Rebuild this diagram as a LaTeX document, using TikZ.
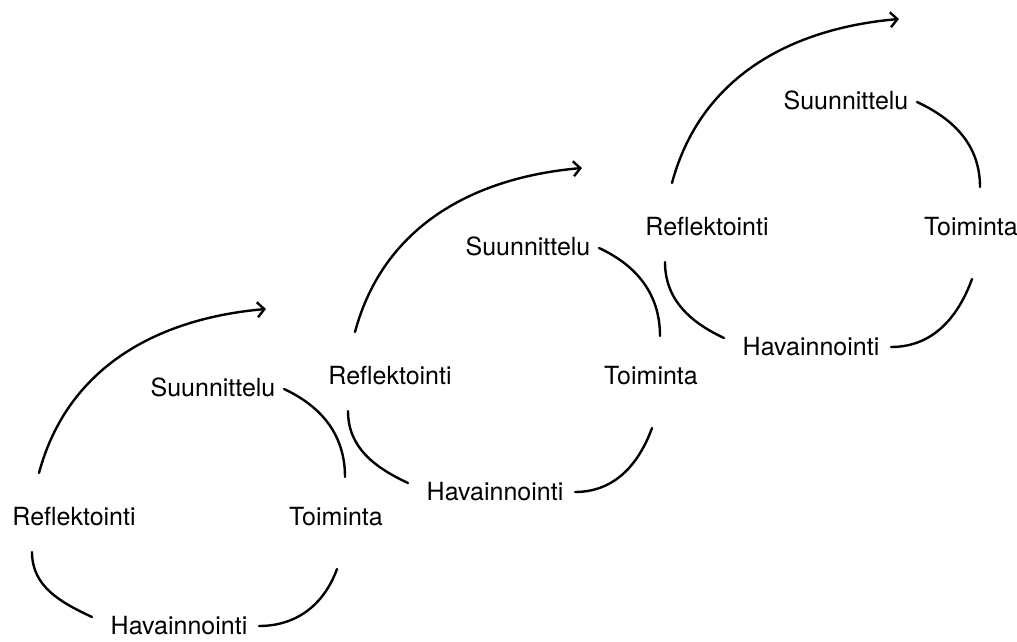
\documentclass[tikz,border=0pt]{standalone}
\usepackage{fontspec}
\setmainfont{TeX Gyre Heros}
\usetikzlibrary{arrows.meta,calc}
\begin{document}
\begin{tikzpicture}[x=1pt,y=1pt,
  lbl/.style={inner sep=0pt,font=\fontsize{25}{30}\selectfont},
  arc/.style={line width=2.4pt,line cap=round},
  bigarrow/.style={arc,-{Straight Barb[length=7pt,width=15pt,line width=2.4pt]}}]
\useasboundingbox (0,0) rectangle (1017,642);
\foreach \i/\rx/\ry/\sx/\sy/\tx/\ty/\hx/\hy in {
  1/74/125/213/255/336/125/179/16,
  2/390/266/528/396/651/266/495/150,
  3/707/415/846/542/971/415/811/295}{
  \node[lbl] (r\i) at (\rx,\ry) {Reflektointi};
  \node[lbl] (s\i) at (\sx,\sy) {Suunnittelu};
  \node[lbl] (t\i) at (\tx,\ty) {Toiminta};
  \node[lbl] (h\i) at (\hx,\hy) {Havainnointi};
  \coordinate (e\i) at ($(r\i)+(192,208)$);
  \draw[arc] ($(s\i)+(71,-2)$) to[out=-25,in=90] ($(t\i)+(9,40)$);
  \draw[arc] ($(t\i)+(1,-52)$) to[out=-110,in=0] ($(h\i)+(80,0)$);
  \draw[arc] ($(h\i)+(-87,9)$) to[out=155,in=-90] ($(r\i)+(-42,-35)$);
  \draw[bigarrow] ($(r\i)+(-35,44)$) to[out=75,in=185] (e\i);
}
\end{tikzpicture}
\end{document}
